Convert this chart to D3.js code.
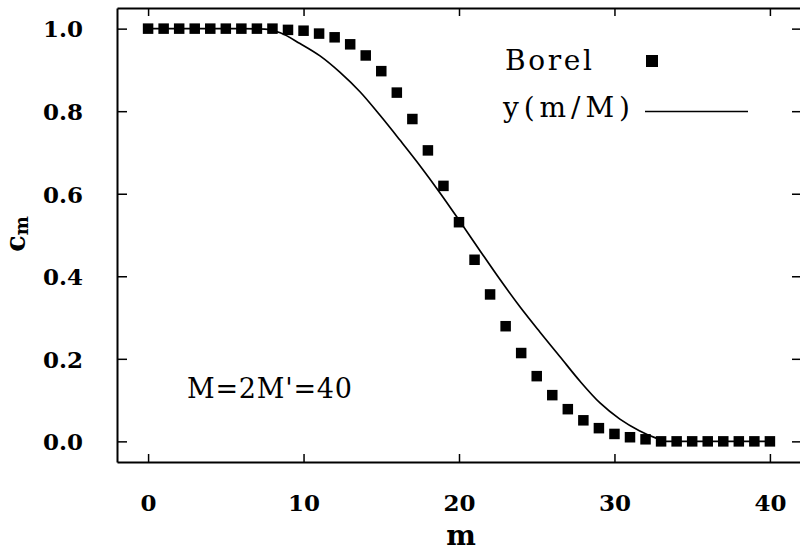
<!DOCTYPE html>
<html>
<head>
<meta charset="utf-8">
<script src="https://cdn.jsdelivr.net/npm/d3@7/dist/d3.min.js"></script>
<style>
  html, body { margin: 0; padding: 0; background: #fff; }
  svg { display: block; }
  text { font-family: "DejaVu Serif", serif; fill: #000; }
</style>
</head>
<body>
<div id="chart"></div>
<script>
// ---- data ----
const borelM = [0,1,2,3,4,5,6,7,8,9,10,11,12,13,14,15,16,17,18,19,20,
                21,22,23,24,25,26,27,28,29,30,31,32,33,34,35,36,37,38,39,40];
const borelC = [1.0,1.0,1.0,1.0,1.0,1.0,1.0,1.0,1.0,0.997,0.995,0.988,0.979,0.962,0.935,0.897,0.845,0.781,0.705,0.619,0.531,
                0.440,0.356,0.279,0.214,0.158,0.112,0.078,0.051,0.032,0.018,0.010,0.005,0.0,0.0,0.0,0.0,0.0,0.0,0.0,0.0];
const curveM = [0, 6, 7.5, 8.5, 9.77, 11.06, 12.35, 13.63, 14.92, 16.2, 17.49, 18.78, 20.06, 21.35,
                22.64, 23.92, 25.2, 26.5, 27.8, 29.07, 30.35, 31.6, 32.6, 33.3, 40];
const curveY = [1.0, 1.0, 0.999, 0.99, 0.964, 0.934, 0.894, 0.847, 0.79, 0.73, 0.668, 0.602, 0.533, 0.462,
                0.392, 0.326, 0.265, 0.205, 0.145, 0.093, 0.054, 0.026, 0.009, 0.0, 0.0];
const xTicks = [0, 10, 20, 30, 40];
const yTicks = [0.0, 0.2, 0.4, 0.6, 0.8, 1.0];
const legendLabels = ["Borel", "y(m/M)"];
const annotation = "M=2M'=40";

// ---- layout ----
const W = 800, H = 554;
const mLeft = 117, mRight = 801, mTop = 8, mBottom = 462;

const svg = d3.select("#chart").append("svg")
  .attr("width", W).attr("height", H);

const x = d3.scaleLinear().domain([-2, 42]).range([mLeft, mRight]);
const y = d3.scaleLinear().domain([-0.05, 1.05]).range([mBottom, mTop]);

function styleAxis(g) {
  g.select(".domain").attr("stroke", "#000").attr("stroke-width", 2);
  g.selectAll(".tick line").attr("stroke", "#000").attr("stroke-width", 1.5);
}

// bottom axis
svg.append("g").attr("transform", `translate(0,${mBottom})`)
  .call(d3.axisBottom(x).tickValues(xTicks).tickSize(-8).tickSizeOuter(0).tickPadding(33)
        .tickFormat(d3.format("d")))
  .call(styleAxis)
  .call(g => g.selectAll(".tick text")
      .attr("font-family", "DejaVu Serif").attr("font-size", 23).attr("font-weight", "bold")
      .attr("fill", "#000"));

// top axis
svg.append("g").attr("transform", `translate(0,${mTop})`)
  .call(d3.axisTop(x).tickValues(xTicks).tickSize(-8).tickSizeOuter(0).tickFormat(""))
  .call(styleAxis);

// left axis
svg.append("g").attr("transform", `translate(${mLeft},0)`)
  .call(d3.axisLeft(y).tickValues(yTicks).tickSize(-10).tickSizeOuter(0).tickPadding(34)
        .tickFormat(d3.format(".1f")))
  .call(styleAxis)
  .call(g => g.selectAll(".tick text")
      .attr("font-family", "DejaVu Serif").attr("font-size", 23).attr("font-weight", "bold")
      .attr("fill", "#000").attr("dy", "0.36em"));

// right axis
svg.append("g").attr("transform", `translate(${mRight},0)`)
  .call(d3.axisRight(y).tickValues(yTicks).tickSize(-9).tickSizeOuter(0).tickFormat(""))
  .call(styleAxis);

// axis titles
svg.append("text")
  .attr("x", 461).attr("y", 545)
  .attr("text-anchor", "middle")
  .attr("font-size", 28).attr("font-weight", "bold")
  .text("m");

const yl = svg.append("text")
  .attr("transform", "translate(25,234) rotate(-90)")
  .attr("text-anchor", "middle")
  .attr("font-weight", "bold");
yl.append("tspan").attr("font-size", 27).text("c");
yl.append("tspan").attr("font-size", 18).attr("dy", 3).text("m");

// curve y(m/M)
const line = d3.line()
  .x((d, i) => x(curveM[i]))
  .y((d, i) => y(curveY[i]))
  .curve(d3.curveMonotoneX);
svg.append("path")
  .datum(curveM)
  .attr("d", line)
  .attr("fill", "none")
  .attr("stroke", "#000")
  .attr("stroke-width", 1.7);

// Borel squares
const sq = 10.5;
svg.append("g").selectAll("rect")
  .data(borelM)
  .join("rect")
  .attr("x", (d, i) => x(d) - sq / 2)
  .attr("y", (d, i) => y(borelC[i]) - sq / 2)
  .attr("width", sq).attr("height", sq)
  .attr("fill", "#000");

// legend
svg.append("text")
  .attr("x", 505).attr("y", 70)
  .attr("font-size", 28)
  .attr("textLength", 87).attr("lengthAdjust", "spacing")
  .text(legendLabels[0]);
svg.append("rect")
  .attr("x", 646).attr("y", 55).attr("width", 12).attr("height", 12)
  .attr("fill", "#000");
svg.append("text")
  .attr("x", 503).attr("y", 117)
  .attr("font-size", 28)
  .attr("textLength", 127).attr("lengthAdjust", "spacing")
  .text(legendLabels[1]);
svg.append("line")
  .attr("x1", 645).attr("x2", 748).attr("y1", 111.5).attr("y2", 111.5)
  .attr("stroke", "#000").attr("stroke-width", 1.6);

// annotation
svg.append("text")
  .attr("x", 187).attr("y", 398)
  .attr("font-size", 27)
  .attr("textLength", 165).attr("lengthAdjust", "spacing")
  .text(annotation);
</script>
</body>
</html>
